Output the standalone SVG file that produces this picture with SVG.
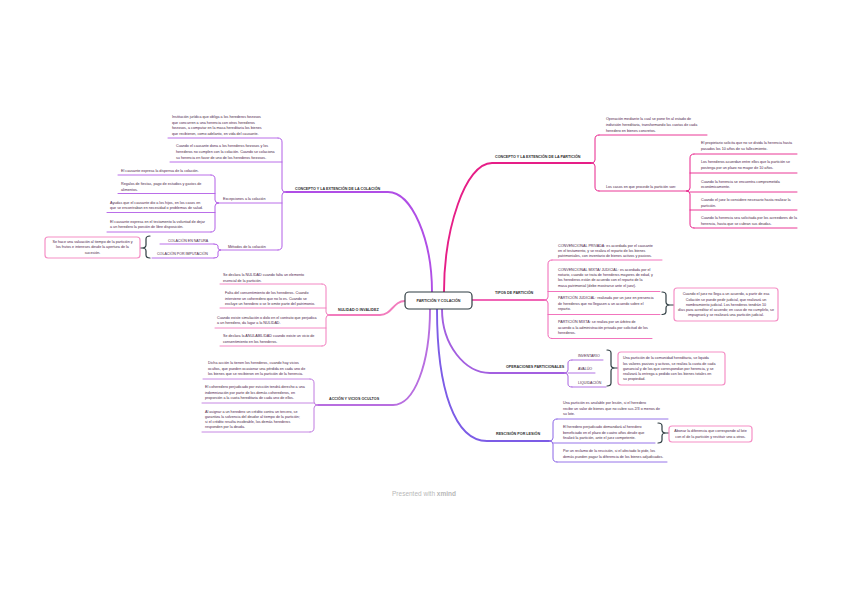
<svg xmlns="http://www.w3.org/2000/svg" width="848" height="599" viewBox="0 0 848 599">
<style>
.t{font-family:"Liberation Sans",Arial,sans-serif;font-size:3.7px;fill:#4a2347}
.c{font-family:"Liberation Sans",Arial,sans-serif;font-size:3.6px;fill:#4a2347}
.b{font-family:"Liberation Sans",Arial,sans-serif;font-size:3.7px;font-weight:bold;fill:#2e2e2e}
.m{text-anchor:middle}
.w{fill:none;stroke-linecap:round;stroke-linejoin:round}
.br{stroke-width:1}
.ul{stroke-width:0.9}
.k{stroke:#2f3d42;stroke-width:1.2}
.box{fill:#fff;stroke:#f590c6;stroke-width:1.2}
.v1{stroke:#b25ee6}.v2{stroke:#f27cbd}.v3{stroke:#c07ae0}.v4{stroke:#e8228b}.v5{stroke:#f065b5}.v6{stroke:#a863e0}.v7{stroke:#8a64e6}
</style>
<rect width="848" height="599" fill="#fff"/>

<g id="connectors" class="w">
  <path d="M432,292 C432,240 412,192 388,192 L286,192" stroke="#b04ee6" stroke-width="1.9"/>
  <path d="M444,292 C444,230 465,163 492,163 L591,163" stroke="#e61e87" stroke-width="1.9"/>
  <path d="M405,301 C393,301 392,315 380,315 L330,315" stroke="#f27cbd" stroke-width="1.9"/>
  <path d="M430,309 C430,365 414,405 393,405 L318,405" stroke="#b86ee0" stroke-width="1.9"/>
  <path d="M472,300 L544,300" stroke="#f065b5" stroke-width="1.9"/>
  <path d="M442,309 C442,345 465,373 490,373 L564,373" stroke="#a35fe0" stroke-width="1.9"/>
  <path d="M437,309 C437,390 455,441 487,441 L549,441" stroke="#7c5ce6" stroke-width="1.9"/>
  <path class="br v1" d="M278,138 Q282,138 282,142 L282,189 Q282,192 286,192 Q282,192 282,195 L282,246 Q282,250 278,250"/>
  <path class="br v1" d="M211,175 Q215,175 215,179 L215,200 Q215,203 219,203 Q215,203 215,206 L215,228 Q215,232 211,232"/>
  <path class="br v1" d="M214,244 Q218,244 218,246 L218,248 Q218,250 221,250 Q218,250 218,252 L218,256 Q218,258 214,258"/>
  <path class="k" d="M150,236 Q146,236 146,239 L146,245 Q146,248 142,248 Q146,248 146,251 L146,255 Q146,258 150,258 M142,248 L140,248"/>
  <path class="br v2" d="M322,284 Q326,284 326,288 L326,312 Q326,315 330,315 Q326,315 326,318 L326,342 Q326,346 322,346"/>
  <path class="br v3" d="M310,379 Q314,379 314,383 L314,402 Q314,405 318,405 Q314,405 314,408 L314,428 Q314,432 310,432"/>
  <path class="br v4" d="M599,135 Q595,135 595,139 L595,160 Q595,163 591,163 Q595,163 595,166 L595,187 Q595,191 599,191"/>
  <path class="br v4" d="M694,154 Q690,154 690,158 L690,188 Q690,191 686,191 Q690,191 690,194 L690,224 Q690,228 694,228"/>
  <path class="br v5" d="M552,260 Q548,260 548,264 L548,297 Q548,300 544,300 Q548,300 548,303 L548,334.5 Q548,338.5 552,338.5"/>
  <path class="k" d="M662,292 Q666,292 666,295 L666,302 Q666,305 670,305 Q666,305 666,308 L666,311.5 Q666,314.5 662,314.5 M670,305 L674,305"/>
  <path class="br v6" d="M572,360 Q568,360 568,363 L568,370 Q568,373 564,373 Q568,373 568,376 L568,384 Q568,387 572,387"/>
  <path class="k" d="M607,350 Q611,350 611,353 L611,365 Q611,368 615,368 Q611,368 611,371 L611,383 Q611,386 607,386 M615,368 L618,368"/>
  <path class="br v7" d="M557,419 Q553,419 553,423 L553,438 Q553,441 549,441 Q553,441 553,444 L553,458 Q553,462 557,462"/>
  <path class="k" d="M658,423 Q662,423 662,426 L662,430 Q662,433 666,433 Q662,433 662,436 L662,440 Q662,443 658,443 M666,433 L669,433"/>
</g>

<g id="center">
  <rect x="405" y="292" width="67" height="17" rx="4" fill="#fff" stroke="#2f3d42" stroke-width="1.2"/>
  <text class="b m" x="438.5" y="302">PARTICIÓN Y COLACIÓN</text>
</g>

<g id="concepto-colacion">
  <text class="b" x="295" y="190.3">CONCEPTO Y LA EXTENCIÓN DE LA COLACIÓN</text>
</g>
<g id="col-definicion">
  <text class="t"><tspan x="172" y="118.3">Institución jurídica que obliga a los herederos forzosos</tspan><tspan x="172" y="123.8">que concurren a una herencia con otros herederos</tspan><tspan x="172" y="129.3">forzosos, a computar en la masa hereditaria los bienes</tspan><tspan x="172" y="134.8">que recibieron, como adelanto, en vida del causante.</tspan></text>
  <path class="w ul v1" d="M168,138 L278,138"/>
</g>
<g id="col-cuando">
  <text class="t"><tspan x="176" y="147.3">Cuando el causante dona a los herederos forzosos y los</tspan><tspan x="176" y="153">herederos no cumplen con la colación. Cuando se colaciona</tspan><tspan x="176" y="158.7">su herencia en favor de uno de los herederos forzosos.</tspan></text>
  <path class="w ul v1" d="M170,162 L282,162"/>
</g>
<g id="excepciones">
  <text class="t" x="223" y="200">Excepciones a la colación</text>
  <path class="w ul v1" d="M219,203 L282,203"/>
</g>
<g id="exc-1">
  <text class="t" x="121" y="172.3">El causante expresa la dispensa de la colación.</text>
  <path class="w ul v1" d="M118,175 L211,175"/>
</g>
<g id="exc-2">
  <text class="t"><tspan x="121" y="185.3">Regalos de fiestas, pago de estudios y gastos de</tspan><tspan x="121" y="190.8">alimentos.</tspan></text>
  <path class="w ul v1" d="M118,193.5 L215,193.5"/>
</g>
<g id="exc-3">
  <text class="t"><tspan x="110" y="203.8">Ayudas que el causante dio a los hijos, en los casos en</tspan><tspan x="110" y="209.3">que se encontraban en necesidad o problemas de salud.</tspan></text>
  <path class="w ul v1" d="M107,212.5 L215,212.5"/>
</g>
<g id="exc-4">
  <text class="t"><tspan x="110" y="222.8">El causante expresa en el testamento la voluntad de dejar</tspan><tspan x="110" y="228.3">a un heredero la porción de libre disposición.</tspan></text>
  <path class="w ul v1" d="M107,232 L211,232"/>
</g>
<g id="metodos">
  <text class="t" x="228" y="248.3">Métodos de la colación</text>
  <path class="w ul v1" d="M221,250 L278,250"/>
</g>
<g id="natura">
  <text class="c" x="168" y="242.3">COLACIÓN EN NATURA</text>
  <path class="w ul v1" d="M160,244 L214,244"/>
</g>
<g id="imputacion">
  <text class="c" x="157" y="255.3">COLACIÓN POR IMPUTACIÓN</text>
  <path class="w ul v1" d="M152,258 L214,258"/>
</g>
<g id="nota-imputacion">
  <rect class="box" x="45" y="237" width="95" height="21" rx="3"/>
  <text class="t m"><tspan x="92.5" y="242.7">Se hace una valuación al tiempo de la partición y</tspan><tspan x="92.5" y="248.2">los frutos e intereses desde la apertura de la</tspan><tspan x="92.5" y="253.7">sucesión.</tspan></text>
</g>

<g id="nulidad">
  <text class="b" x="338" y="311">NULIDAD O INVALIDEZ</text>
</g>
<g id="nul-1">
  <text class="t"><tspan x="223" y="276.3">Se declara la NULIDAD cuando falta un elemento</tspan><tspan x="223" y="281.6">esencial de la partición.</tspan></text>
  <path class="w ul v2" d="M220,284 L322,284"/>
</g>
<g id="nul-2">
  <text class="t"><tspan x="225" y="294">Falta del consentimiento de los herederos. Cuando</tspan><tspan x="225" y="299.5">interviene un coheredero que no lo es. Cuando se</tspan><tspan x="225" y="305">excluye un heredero o se le omite parte del patrimonio.</tspan></text>
  <path class="w ul v2" d="M220,308 L326,308"/>
</g>
<g id="nul-3">
  <text class="t"><tspan x="217" y="318.8">Cuando existe simulación o dolo en el contrato que perjudica</tspan><tspan x="217" y="324.3">a un heredero, da lugar a la NULIDAD.</tspan></text>
  <path class="w ul v2" d="M215,328 L326,328"/>
</g>
<g id="nul-4">
  <text class="t"><tspan x="223" y="337.3">Se declara la ANULABILIDAD cuando existe un vicio de</tspan><tspan x="223" y="342.8">consentimiento en los herederos.</tspan></text>
  <path class="w ul v2" d="M220,346 L322,346"/>
</g>

<g id="accion">
  <text class="b" x="329" y="400.3">ACCIÓN Y VICIOS OCULTOS</text>
</g>
<g id="acc-1">
  <text class="t"><tspan x="208" y="364.3">Dicha acción la tienen los herederos, cuando hay vicios</tspan><tspan x="208" y="369.8">ocultos, que pueden ocasionar una pérdida en cada uno de</tspan><tspan x="208" y="375.3">los bienes que se recibieron en la partición de la herencia.</tspan></text>
  <path class="w ul v3" d="M203,379 L310,379"/>
</g>
<g id="acc-2">
  <text class="t"><tspan x="205" y="388">El coheredero perjudicado por evicción tendrá derecho a una</tspan><tspan x="205" y="393.5">indemnización por parte de los demás coherederos, en</tspan><tspan x="205" y="399">proporción a la cuota hereditaria de cada uno de ellos.</tspan></text>
  <path class="w ul v3" d="M202,403 L314,403"/>
</g>
<g id="acc-3">
  <text class="t"><tspan x="205" y="412.5">Al asignar a un heredero un crédito contra un tercero, se</tspan><tspan x="205" y="417.8">garantiza la solvencia del deudor al tiempo de la partición;</tspan><tspan x="205" y="423.1">si el crédito resulta incobrable, los demás herederos</tspan><tspan x="205" y="428.4">responden por la deuda.</tspan></text>
  <path class="w ul v3" d="M202,432 L310,432"/>
</g>

<g id="concepto-particion">
  <text class="b" x="495" y="158.3">CONCEPTO Y LA EXTENCIÓN DE LA PARTICIÓN</text>
</g>
<g id="par-definicion">
  <text class="t"><tspan x="606" y="120.3">Operación mediante la cual se pone fin al estado de</tspan><tspan x="606" y="126">indivisión hereditaria, transformando las cuotas de cada</tspan><tspan x="606" y="131.7">heredero en bienes concretos.</tspan></text>
  <path class="w ul v4" d="M599,135 L707,135"/>
</g>
<g id="casos">
  <text class="t" x="606" y="188.3">Los casos en que procede la partición son:</text>
  <path class="w ul v4" d="M599,191 L686,191"/>
</g>
<g id="caso-1">
  <text class="t"><tspan x="701" y="144.3">El propietario solicita que no se divida la herencia hasta</tspan><tspan x="701" y="150">pasados los 10 años de su fallecimiento.</tspan></text>
  <path class="w ul v4" d="M694,154 L797,154"/>
</g>
<g id="caso-2">
  <text class="t"><tspan x="701" y="163.3">Los herederos acuerdan entre ellos que la partición se</tspan><tspan x="701" y="169">posterga por un plazo no mayor de 10 años.</tspan></text>
  <path class="w ul v4" d="M690,173 L797,173"/>
</g>
<g id="caso-3">
  <text class="t"><tspan x="701" y="182.8">Cuando la herencia se encuentra comprometida</tspan><tspan x="701" y="188.3">económicamente.</tspan></text>
  <path class="w ul v4" d="M690,192 L797,192"/>
</g>
<g id="caso-4">
  <text class="t"><tspan x="701" y="201">Cuando el juez lo considere necesario hasta realizar la</tspan><tspan x="701" y="206.7">partición.</tspan></text>
  <path class="w ul v4" d="M690,210 L797,210"/>
</g>
<g id="caso-5">
  <text class="t"><tspan x="701" y="219.3">Cuando la herencia sea solicitada por los acreedores de la</tspan><tspan x="701" y="225">herencia, hasta que se cubran sus deudas.</tspan></text>
  <path class="w ul v4" d="M694,228 L797,228"/>
</g>

<g id="tipos">
  <text class="b" x="495" y="294.3">TIPOS DE PARTICIÓN</text>
</g>
<g id="tipo-1">
  <text class="t"><tspan x="558" y="246.8">CONVENCIONAL PRIVADA: es acordada por el causante</tspan><tspan x="558" y="252.1">en el testamento, y se realiza el reparto de los bienes</tspan><tspan x="558" y="257.4">patrimoniales, con inventario de bienes activos y pasivos.</tspan></text>
  <path class="w ul v5" d="M552,260 L662,260"/>
</g>
<g id="tipo-2">
  <text class="t"><tspan x="558" y="270.6">CONVENCIONAL MIXTA/ JUDICIAL: es acordada por el</tspan><tspan x="558" y="275.9">notario, cuando se trata de herederos mayores de edad, y</tspan><tspan x="558" y="281.2">los herederos están de acuerdo con el reparto de la</tspan><tspan x="558" y="286.5">masa patrimonial   (debe mostrarse ante el juez).</tspan></text>
  <path class="w ul v5" d="M548,291.5 L660,291.5"/>
</g>
<g id="tipo-3">
  <text class="t"><tspan x="558" y="299.3">PARTICIÓN JUDICIAL: realizada por un juez en presencia</tspan><tspan x="558" y="304.8">de herederos que no llegasen a un acuerdo sobre el</tspan><tspan x="558" y="310.3">reparto.</tspan></text>
  <path class="w ul v5" d="M548,314.5 L660,314.5"/>
</g>
<g id="tipo-4">
  <text class="t"><tspan x="558" y="323.3">PARTICIÓN MIXTA: se realiza por un árbitro de</tspan><tspan x="558" y="328.8">acuerdo a la administración privada por solicitud de los</tspan><tspan x="558" y="334.3">herederos.</tspan></text>
  <path class="w ul v5" d="M552,338.5 L652,338.5"/>
</g>
<g id="nota-judicial">
  <rect class="box" x="674" y="288" width="104" height="33" rx="3"/>
  <text class="t m"><tspan x="726" y="295.3">Cuando el juez no llega a un acuerdo, a partir de esa</tspan><tspan x="726" y="300.5">Colación se puede pedir judicial, que realizará un</tspan><tspan x="726" y="305.7">nombramiento judicial. Los herederos tendrán 10</tspan><tspan x="726" y="310.9">días para acreditar el acuerdo; en caso de no cumplirlo, se</tspan><tspan x="726" y="316.1">impugnará y se realizará una partición judicial.</tspan></text>
</g>

<g id="operaciones">
  <text class="b" x="506" y="368.3">OPERACIONES PARTICIONALES</text>
</g>
<g id="inventario">
  <text class="c" x="578" y="357.3">INVENTARIO</text>
  <path class="w ul v6" d="M572,360 L603,360"/>
</g>
<g id="avaluo">
  <text class="c" x="578" y="370.3">AVALÚO</text>
  <path class="w ul v6" d="M568,373 L595,373"/>
</g>
<g id="liquidacion">
  <text class="c" x="578" y="384">LIQUIDACIÓN</text>
  <path class="w ul v6" d="M572,387 L606,387"/>
</g>
<g id="nota-operaciones">
  <rect class="box" x="618" y="352" width="107" height="33" rx="3"/>
  <text class="t"><tspan x="623" y="359.3">Una partición de la comunidad hereditaria, se liquida</tspan><tspan x="623" y="364.5">los valores pasivos y activos, se realiza la cuota de cada</tspan><tspan x="623" y="369.7">ganancial y de los que correspondan por herencia, y se</tspan><tspan x="623" y="374.9">realizará la entrega a pedido con los bienes totales en</tspan><tspan x="623" y="380.1">su propiedad.</tspan></text>
</g>

<g id="rescision">
  <text class="b" x="496" y="435.3">RESCISIÓN POR LESIÓN</text>
</g>
<g id="res-1">
  <text class="t"><tspan x="563" y="404.3">Una partición es anulable por lesión, si el heredero</tspan><tspan x="563" y="409.8">recibe un valor de bienes que no cubre sus 2/3 o menos de</tspan><tspan x="563" y="415.3">su lote.</tspan></text>
  <path class="w ul v7" d="M557,419 L668,419"/>
</g>
<g id="res-2">
  <text class="t"><tspan x="563" y="428.3">El heredero perjudicado demandará al heredero</tspan><tspan x="563" y="433.8">beneficiado en el plazo de cuatro años desde que</tspan><tspan x="563" y="439.3">finalizó la partición, ante el juez competente.</tspan></text>
  <path class="w ul v7" d="M553,443 L655,443"/>
</g>
<g id="res-3">
  <text class="t"><tspan x="563" y="452.3">Por un reclamo de la rescisión, si el afectado lo pide, los</tspan><tspan x="563" y="457.8">demás pueden pagar la diferencia de los bienes adjudicados.</tspan></text>
  <path class="w ul v7" d="M557,462 L667,462"/>
</g>
<g id="nota-rescision">
  <rect class="box" x="669" y="426" width="83" height="16" rx="3"/>
  <text class="t m"><tspan x="710.5" y="432.3">Abonar la diferencia que corresponde al lote</tspan><tspan x="710.5" y="437.8">con el de la partición y restituir uno a otros.</tspan></text>
</g>

<text x="424" y="496" text-anchor="middle" font-family="'Liberation Sans',Arial,sans-serif" font-size="6.5" fill="#b8b8b8">Presented with <tspan font-weight="bold">xmind</tspan></text>
</svg>
